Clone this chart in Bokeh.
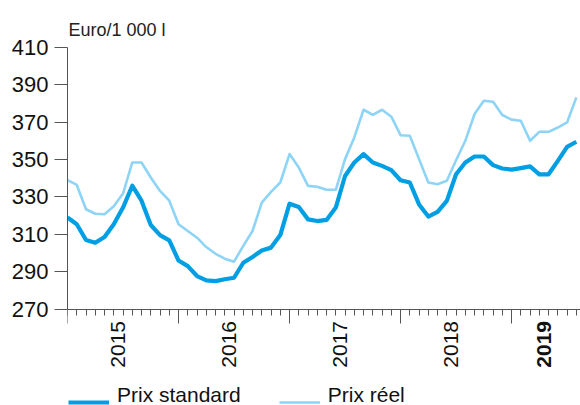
import math
from bokeh.plotting import figure
from bokeh.models import (Range1d, FixedTicker, Legend, LegendItem, ColumnDataSource)
from bokeh.core.properties import value
from bokeh.embed import file_html
from bokeh.resources import INLINE

# ---- data (monthly, Jan 2015 .. Aug 2019) ----
years = ["2015", "2016", "2017", "2018", "2019"]
months_per_year = [12, 12, 12, 12, 8]
prix_standard = [319, 315.4, 307, 305.5, 308.6, 315.4, 324.3, 336, 328, 315, 309.6, 306.8,
                 296, 293, 287.7, 285.4, 285, 286, 286.8, 294.8, 297.9, 301.4, 302.9, 309.6,
                 326.4, 324.6, 318, 317.1, 317.7, 324.3, 341.2, 348.4, 352.9, 348.4, 346.6, 344.3,
                 338.9, 337.7, 326, 319.5, 322, 327.9, 342.1, 348.4, 351.6, 351.6, 347, 345.2,
                 344.6, 345.4, 346.3, 342.1, 342.1, 349.3, 356.8, 359.5]
prix_reel = [339, 336.4, 323.4, 321, 320.7, 325, 331.8, 348.4, 348.4, 340.4, 333.2, 328,
             315.4, 311.8, 308.2, 303.2, 299.6, 297, 295.4, 303.8, 311.8, 327, 332.7, 337.7,
             352.9, 345.7, 335.9, 335.4, 333.8, 333.8, 350.2, 361.8, 376.6, 373.8, 376.6, 372.9,
             363, 362.7, 350.2, 337.7, 336.8, 338.6, 349.6, 360, 374.3, 381.4, 380.9, 373.8,
             371.3, 370.7, 360, 364.8, 364.8, 367.1, 369.8, 383.2]
y_ticks = [270, 290, 310, 330, 350, 370, 390, 410]
y_unit = "Euro/1 000 l"
series_names = ["Prix standard", "Prix réel"]
bold_years = ["2019"]

x = list(range(len(prix_standard)))
year_starts = [sum(months_per_year[:i]) for i in range(len(years))]
year_mids = [s + (n - 1) / 2 for s, n in zip(year_starts, months_per_year)]

FONT = "Liberation Sans"
DARK = "#009fe3"
LIGHT = "#8dd4f6"
AXIS = "#555555"
Y0, Y1 = y_ticks[0], y_ticks[-1]

p = figure(width=580, height=405, output_backend="svg", toolbar_location=None,
           x_range=Range1d(0, 55.45), y_range=Range1d(218.5, 435.0),
           min_border_left=67, min_border_right=0, min_border_top=0, min_border_bottom=0)
p.outline_line_color = None
p.grid.visible = False
p.background_fill_color = "white"
p.border_fill_color = "white"

r1 = p.line(x, prix_standard, line_color=DARK, line_width=4.2, line_join="round")
r2 = p.line(x, prix_reel, line_color=LIGHT, line_width=2.6, line_join="round")

# y axis
ya = p.yaxis[0]
ya.ticker = FixedTicker(ticks=y_ticks, minor_ticks=[])
ya.bounds = (Y0, Y1)
ya.axis_line_color = AXIS
ya.major_tick_line_color = AXIS
ya.major_tick_out = 13
ya.major_tick_in = 0
ya.minor_tick_line_color = None
ya.major_label_standoff = 6
ya.major_label_text_font = FONT
ya.major_label_text_font_size = "22px"
ya.major_label_text_color = "#111111"

# x axis, fixed at the bottom of the value range
xa = p.xaxis[0]
xa.fixed_location = Y0
xa.ticker = FixedTicker(ticks=year_starts, minor_ticks=x)
xa.axis_line_color = AXIS
xa.major_tick_line_color = AXIS
xa.minor_tick_line_color = AXIS
xa.major_tick_out = 14
xa.major_tick_in = 0
xa.minor_tick_out = 6
xa.minor_tick_in = 0
xa.major_label_text_font_size = "0px"
xa.major_label_text_alpha = 0

# year labels (vertical)
norm = ColumnDataSource(dict(x=[m for y, m in zip(years, year_mids) if y not in bold_years],
                             t=[y for y in years if y not in bold_years]))
bold = ColumnDataSource(dict(x=[m for y, m in zip(years, year_mids) if y in bold_years],
                             t=[y for y in years if y in bold_years]))
for src, style in ((norm, "normal"), (bold, "bold")):
    p.text(x="x", y=251.2, text="t", source=src, angle=math.pi / 2,
           text_align="center", text_baseline="middle",
           text_font=value(FONT), text_font_size="21px", text_color="#111111",
           text_font_style=style)

# unit label
p.text(x=[0.1], y=[419.2], text=[y_unit], text_align="left", text_baseline="alphabetic",
       text_font=value(FONT), text_font_size="18px", text_color="#222222")

common = dict(orientation="horizontal", padding=0, margin=0,
              border_line_color=None, background_fill_alpha=0,
              label_text_font=FONT, label_text_font_size="21px",
              label_text_color="#111111", label_height=24, glyph_height=24)

# legend keys (line samples only)
keys = Legend(items=[LegendItem(label=" ", renderers=[r1]),
                     LegendItem(label=" ", renderers=[r2])],
              location=(1, -9), glyph_width=41, label_standoff=0, spacing=150, **common)
# legend texts
texts = Legend(items=[LegendItem(label=series_names[0], renderers=[r1]),
                      LegendItem(label=series_names[1], renderers=[r2])],
               location=(50, -2), glyph_width=0, label_standoff=0, spacing=87, **common)
p.add_layout(keys, "center")
p.add_layout(texts, "center")

open("out.html", "w").write(file_html(p, INLINE))
